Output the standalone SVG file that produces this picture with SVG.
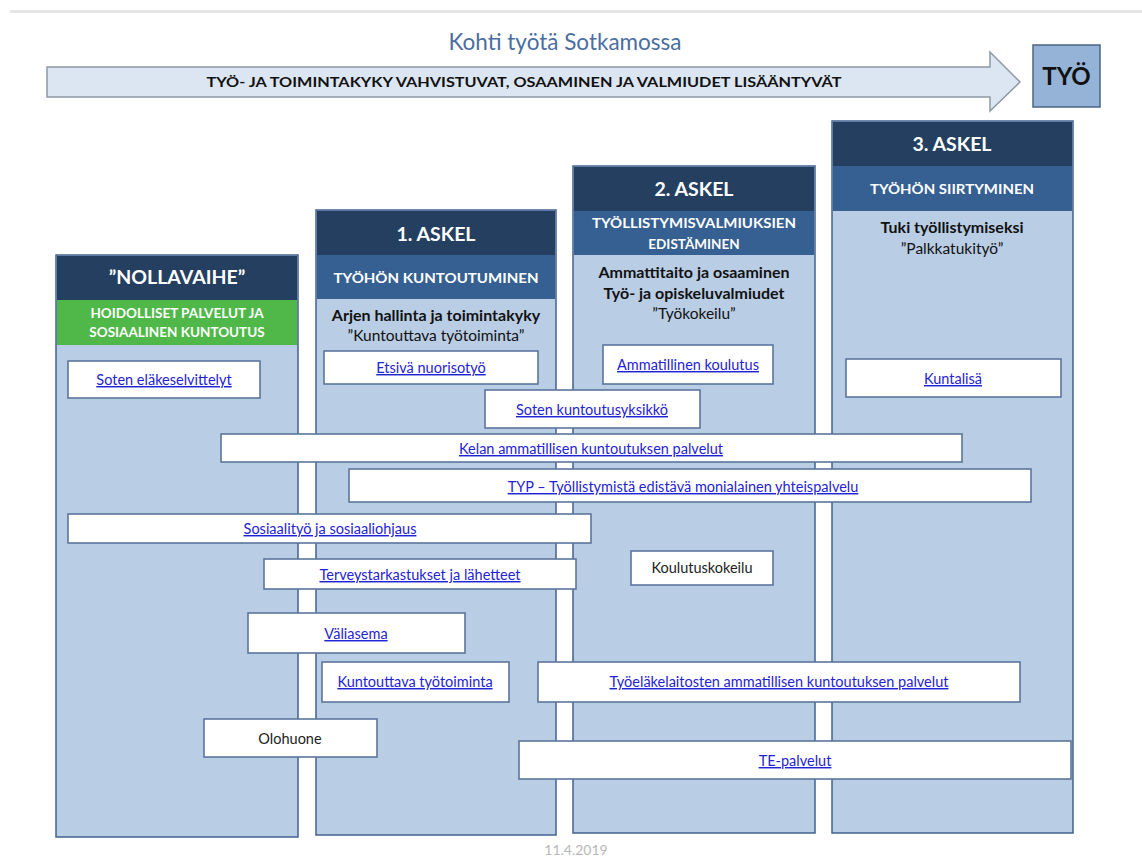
<svg xmlns="http://www.w3.org/2000/svg" width="1142" height="856" viewBox="0 0 1142 856">
<style>
text{font-family:Lato,"Open Sans","Liberation Sans",sans-serif}
.col{fill:#b9cde5;stroke:#41618e;stroke-width:1.5}
.dark{fill:#243f60}
.mid{fill:#366092}
.green{fill:#4fb848}
.h1{fill:#fff;font-size:19.5px;font-weight:700;text-anchor:middle}
.h2{fill:#fff;font-size:13.5px;font-weight:700;text-anchor:middle}
.b1{fill:#111;font-size:16px;font-weight:700;text-anchor:middle}
.b2{fill:#111;font-size:15.5px;text-anchor:middle}
.box{fill:#fff;stroke:#5b769c;stroke-width:1.6}
.lnk{fill:#1f23d6;font-size:14.5px;text-anchor:middle;text-decoration:underline}
.plain{fill:#222;font-size:14.5px;text-anchor:middle}
</style>
<rect width="1142" height="856" fill="#fff"/>
<rect x="10" y="10" width="1132" height="3" fill="#e6e6e6"/>
<text x="565" y="50" font-size="22.5" fill="#4a6e9f" text-anchor="middle">Kohti työtä Sotkamossa</text>
<g id="arrow">
<path d="M47,67 H990 V52 L1020,82 L990,111 V97 H47 Z" fill="#dce6f2" stroke="#8d98a4" stroke-width="1.5"/>
<text x="524" y="87" font-size="14" font-weight="700" fill="#111" text-anchor="middle" textLength="635" lengthAdjust="spacingAndGlyphs">TYÖ- JA TOIMINTAKYKY VAHVISTUVAT, OSAAMINEN JA VALMIUDET LISÄÄNTYVÄT</text>
</g>
<g id="tyo">
<rect x="1033" y="45" width="67" height="62" fill="#95b3d7" stroke="#4d6587" stroke-width="1.5"/>
<text x="1066.5" y="85" font-size="24" font-weight="700" fill="#111" text-anchor="middle">TYÖ</text>
</g>
<g id="col0">
<rect class="col" x="56" y="255" width="242" height="582"/>
<rect class="dark" x="57" y="256" width="240" height="44"/>
<rect class="green" x="57" y="300" width="240" height="45"/>
<text class="h1" x="177" y="284">”NOLLAVAIHE”</text>
<text class="h2" x="177" y="318" font-size="13">HOIDOLLISET PALVELUT JA</text>
<text class="h2" x="177" y="337" font-size="13">SOSIAALINEN KUNTOUTUS</text>
</g>
<g id="col1">
<rect class="col" x="316" y="210" width="240" height="625"/>
<rect class="dark" x="317" y="211" width="238" height="44"/>
<rect class="mid" x="317" y="255" width="238" height="44"/>
<text class="h1" x="436" y="241">1. ASKEL</text>
<text class="h2" x="436" y="283" textLength="205" lengthAdjust="spacingAndGlyphs">TYÖHÖN KUNTOUTUMINEN</text>
<text class="b1" x="436" y="321">Arjen hallinta ja toimintakyky</text>
<text class="b2" x="436" y="341">”Kuntouttava työtoiminta”</text>
</g>
<g id="col2">
<rect class="col" x="573" y="166" width="242" height="667"/>
<rect class="dark" x="574" y="167" width="240" height="44"/>
<rect class="mid" x="574" y="211" width="240" height="44"/>
<text class="h1" x="694" y="196">2. ASKEL</text>
<text class="h2" x="694" y="228" textLength="204" lengthAdjust="spacingAndGlyphs">TYÖLLISTYMISVALMIUKSIEN</text>
<text class="h2" x="694" y="249" font-size="14.5">EDISTÄMINEN</text>
<text class="b1" x="694" y="278">Ammattitaito ja osaaminen</text>
<text class="b1" x="694" y="299">Työ- ja opiskeluvalmiudet</text>
<text class="b2" x="694" y="319">”Työkokeilu”</text>
</g>
<g id="col3">
<rect class="col" x="832" y="121" width="241" height="712"/>
<rect class="dark" x="833" y="122" width="239" height="44"/>
<rect class="mid" x="833" y="166" width="239" height="45"/>
<text class="h1" x="952" y="151">3. ASKEL</text>
<text class="h2" x="952" y="194" textLength="164" lengthAdjust="spacingAndGlyphs">TYÖHÖN SIIRTYMINEN</text>
<text class="b1" x="952" y="233">Tuki työllistymiseksi</text>
<text class="b2" x="952" y="254">”Palkkatukityö”</text>
</g>
<g id="connectors"></g>
<g id="n-elake"><rect class="box" x="68" y="361" width="192" height="37"/><text class="lnk" x="164" y="385">Soten eläkeselvittelyt</text></g>
<g id="n-etsiva"><rect class="box" x="324" y="351" width="214" height="33"/><text class="lnk" x="431" y="373">Etsivä nuorisotyö</text></g>
<g id="n-ammkoulutus"><rect class="box" x="603" y="345" width="170" height="39"/><text class="lnk" x="688" y="370">Ammatillinen koulutus</text></g>
<g id="n-kuntalisa"><rect class="box" x="846" y="359" width="215" height="38"/><text class="lnk" x="953" y="384">Kuntalisä</text></g>
<g id="n-kuntoutusyksikko"><rect class="box" x="485" y="390" width="215" height="38"/><text class="lnk" x="592" y="415">Soten kuntoutusyksikkö</text></g>
<g id="n-kela"><rect class="box" x="221" y="434" width="741" height="28"/><text class="lnk" x="591" y="454">Kelan ammatillisen kuntoutuksen palvelut</text></g>
<g id="n-typ"><rect class="box" x="349" y="469" width="682" height="33"/><text class="lnk" x="683" y="492">TYP – Työllistymistä edistävä monialainen yhteispalvelu</text></g>
<g id="n-sosiaali"><rect class="box" x="68" y="514" width="523" height="29"/><text class="lnk" x="330" y="534">Sosiaalityö ja sosiaaliohjaus</text></g>
<g id="n-terveys"><rect class="box" x="264" y="559" width="312" height="30"/><text class="lnk" x="420" y="580">Terveystarkastukset ja lähetteet</text></g>
<g id="n-koulutuskokeilu"><rect class="box" x="631" y="551" width="142" height="34"/><text class="plain" x="702" y="573">Koulutuskokeilu</text></g>
<g id="n-valiasema"><rect class="box" x="248" y="613" width="217" height="40"/><text class="lnk" x="356" y="639">Väliasema</text></g>
<g id="n-kuntouttava"><rect class="box" x="322" y="662" width="187" height="40"/><text class="lnk" x="415" y="687">Kuntouttava työtoiminta</text></g>
<g id="n-tyoelake"><rect class="box" x="538" y="662" width="482" height="40"/><text class="lnk" x="779" y="687">Työeläkelaitosten ammatillisen kuntoutuksen palvelut</text></g>
<g id="n-olohuone"><rect class="box" x="204" y="719" width="173" height="38"/><text class="plain" x="290" y="744">Olohuone</text></g>
<g id="n-te"><rect class="box" x="519" y="741" width="552" height="38"/><text class="lnk" x="795" y="766">TE-palvelut</text></g>
<text x="576" y="855" font-size="14" fill="#b8b8b8" text-anchor="middle">11.4.2019</text>
</svg>
